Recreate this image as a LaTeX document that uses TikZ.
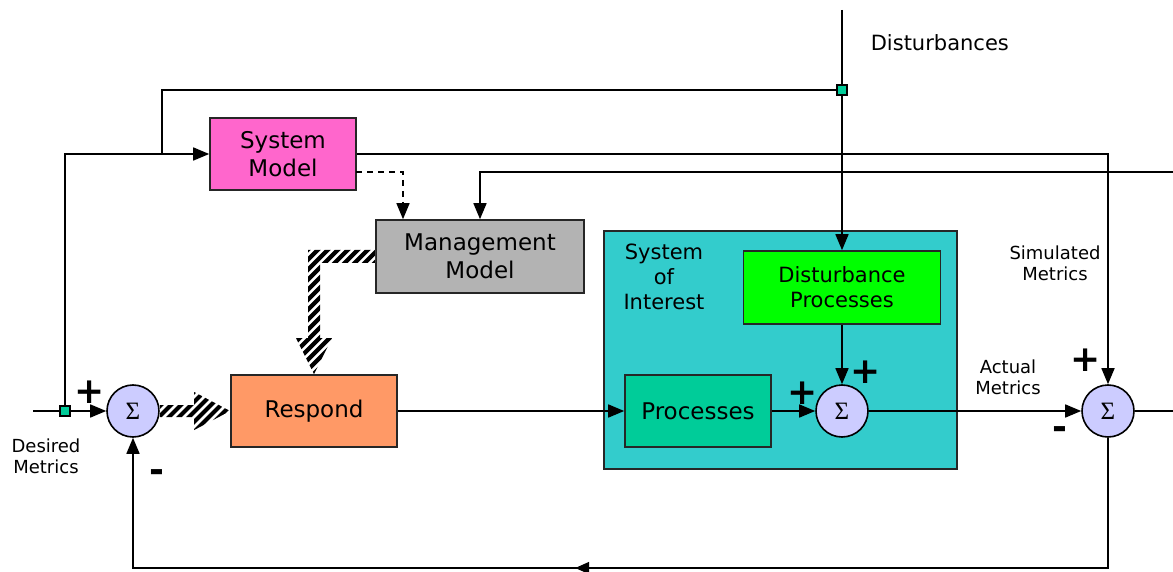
\documentclass[tikz,border=0pt]{standalone}
\usepackage{fontspec}
\setmainfont{DejaVu Sans}
\newfontfamily\sumfont{Liberation Serif}
\usetikzlibrary{arrows.meta,calc,decorations.markings}

\definecolor{modelpink}{HTML}{FF66CC}
\definecolor{mgmtgray}{HTML}{B3B3B3}
\definecolor{resporange}{HTML}{FF9966}
\definecolor{soicyan}{HTML}{33CCCC}
\definecolor{distgreen}{HTML}{00FF00}
\definecolor{procgreen}{HTML}{00CC99}
\definecolor{sumblue}{HTML}{CCCCFF}

\begin{document}
\begin{tikzpicture}[x=1pt,y=-1pt,
  line width=1.6pt,
  >={Triangle[length=16pt,width=13pt]},
  block/.style={draw=black!85, line width=1.6pt, inner sep=0pt, align=center,
    font=\fontsize{23}{28}\selectfont},
  sumnode/.style={circle, draw, fill=sumblue, minimum size=52pt, inner sep=0pt,
    line width=1.6pt},
  sumtext/.style={inner sep=0pt, font=\sumfont\fontsize{25}{25}\selectfont},
  junc/.style={draw, fill=procgreen, minimum size=10pt, inner sep=0pt, line width=1.2pt},
  lbl/.style={align=center, inner sep=0pt, font=\fontsize{18}{21}\selectfont},
  sign/.style={inner sep=0pt, font=\bfseries\fontsize{36}{36}\selectfont},
  hatchfill/.style={fill=white, path picture={
    \foreach \k in {-160,-150,...,160}
      \draw[black, line width=4.2pt]
        ([xshift=\k pt]path picture bounding box.center) ++(-100pt,-100pt) -- ++(200pt,200pt);
  }},
  midarrow/.style={postaction={decorate, decoration={markings,
    mark=at position 663pt with {\arrow{Triangle[length=14pt,width=12pt]}}}}}
]
\useasboundingbox (0,0) rectangle (1173,572);

% enclosing system of interest
\node[draw=black!85, fill=soicyan, minimum width=353pt, minimum height=238pt, inner sep=0pt]
  (soi) at (780.5,350) {};
\node[align=center, inner sep=0pt, font=\fontsize{21}{25}\selectfont] (soilbl) at (664,277)
  {System\\of\\Interest};

% blocks
\node[block, fill=modelpink, minimum width=146pt, minimum height=72pt] (sm) at (283,154) {System\\Model};
\node[block, fill=mgmtgray, minimum width=208pt, minimum height=73pt] (mm) at (480,256.5) {Management\\Model};
\node[block, fill=resporange, minimum width=166pt, minimum height=72pt] (resp) at (314,411) {Respond};
\node[block, fill=distgreen, minimum width=197pt, minimum height=73pt,
  font=\fontsize{21}{25}\selectfont] (dp) at (842,287.5) {Disturbance\\Processes};
\node[block, fill=procgreen, minimum width=146pt, minimum height=72pt] (proc) at (698,411) {Processes};

% summing junctions
\node[sumnode] (s1) at (133,411) {};
\node[sumnode] (s2) at (842,411) {};
\node[sumnode] (s3) at (1108,411) {};
\node[sumtext] (s1t) at (s1.center) {Σ};
\node[sumtext] (s2t) at (s2.center) {Σ};
\node[sumtext] (s3t) at (s3.center) {Σ};

% free ends and branch points
\coordinate (din) at (33,411);
\coordinate (j1) at (65,411);
\coordinate (j2) at (842,90);
\coordinate (dtop) at (842,10);
\coordinate (k1) at (162,154);
\coordinate (dashA) at (356,172);
\coordinate (dashX) at (403,0);
\coordinate (rin) at (1173,172);
\coordinate (rout) at (1173,411);
\coordinate (fbl) at (133,568);
\coordinate (mh) at (resp.north |- mm.west);

% signal lines
\draw[->] (din) -- (s1.west);
\draw[->] (j1) |- (sm.west);
\draw (j2) -| (k1);
\draw[->] (dtop) -- (dp.north);
\draw[->] (sm.east) -| (s3.north);
\draw[dash pattern=on 6pt off 5pt, line width=1.4pt, ->] (dashA) -| (mm.north -| dashX);
\draw[->] (rin) -| (mm.north);
\draw[->] (resp.east) -- (proc.west);
\draw[->] (proc.east) -- (s2.west);
\draw[->] (dp.south) -- (s2.north);
\draw[->] (s2.east) -- (s3.west);
\draw (s3.east) -- (rout);
\draw[->, midarrow] (s3.south) |- (fbl) -- (s1.south);

% hatched command arrows
\path[hatchfill] ($(s1.east)+(0,-6)$) -- ($(resp.west)+(-36,-6)$) -- ($(resp.west)+(-36,-19)$)
  -- (resp.west) -- ($(resp.west)+(-36,19)$) -- ($(resp.west)+(-36,6)$) -- ($(s1.east)+(0,6)$) -- cycle;
\path[hatchfill] ($(mm.west)+(0,-6.5)$) -- ($(mh)+(-6,-6.5)$) -- ($(resp.north)+(-6,-36)$)
  -- ($(resp.north)+(-18,-36)$) -- (resp.north) -- ($(resp.north)+(18,-36)$)
  -- ($(resp.north)+(6,-36)$) -- ($(mh)+(6,6.5)$) -- ($(mm.west)+(0,6.5)$) -- cycle;

% branch point markers
\node[junc] (j1m) at (j1) {};
\node[junc] (j2m) at (j2) {};

% labels
\node[anchor=west, inner sep=0pt, font=\fontsize{21}{25}\selectfont] (distlbl) at (870,43) {Disturbances};
\node[lbl] (deslbl) at (46,456) {Desired\\Metrics};
\node[lbl] (actlbl) at (1008,377) {Actual\\Metrics};
\node[lbl] (simlbl) at (1055,263) {Simulated\\Metrics};

% signs at the summing junctions
\node[sign] (p1) at (90,392) {+};
\node[sign] (m1) at (157,476) {-};
\node[sign] (p2) at (803,393) {+};
\node[sign] (p3) at (866,372) {+};
\node[sign] (p4) at (1086,360) {+};
\node[sign] (m3) at (1060,433) {-};
\end{tikzpicture}
\end{document}
